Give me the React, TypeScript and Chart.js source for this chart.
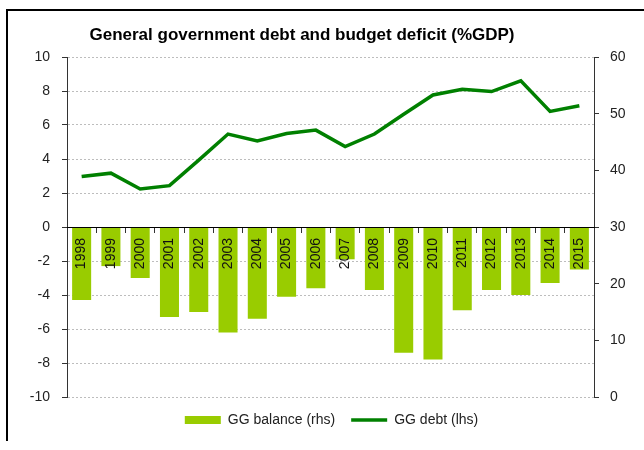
import React, { useEffect, useRef } from "react";
import { Chart, registerables } from "chart.js";

Chart.register(...registerables);

const years = ["1998", "1999", "2000", "2001", "2002", "2003", "2004", "2005", "2006", "2007", "2008", "2009", "2010", "2011", "2012", "2013", "2014", "2015"];
const ggBalance = [-4.3, -2.3, -3.0, -5.3, -5.0, -6.2, -5.4, -4.1, -3.6, -1.9, -3.7, -7.4, -7.8, -4.9, -3.7, -4.0, -3.3, -2.5];
const ggDebt = [38.9, 39.5, 36.7, 37.3, 41.8, 46.4, 45.2, 46.5, 47.1, 44.2, 46.4, 49.9, 53.3, 54.3, 53.9, 55.8, 50.4, 51.4];

const titleText = "General government debt and budget deficit (%GDP)";
const balanceLabel = "GG balance (rhs)";
const debtLabel = "GG debt (lhs)";

const BAR_COLOR = "#99CC00";
const LINE_COLOR = "#008000";
const FONT = "'Liberation Sans', Arial, sans-serif";

export default function App() {
  const canvasRef = useRef<HTMLCanvasElement>(null);

  useEffect(() => {
    if (!canvasRef.current) return;
    const chart = new Chart(canvasRef.current, {
      type: "bar",
      data: {
        labels: years,
        datasets: [
          {
            type: "bar",
            label: balanceLabel,
            data: ggBalance,
            backgroundColor: BAR_COLOR,
            borderWidth: 0,
            yAxisID: "y",
            categoryPercentage: 1,
            barPercentage: 0.65,
            order: 2,
          },
          {
            type: "line",
            label: debtLabel,
            data: ggDebt,
            borderColor: LINE_COLOR,
            backgroundColor: LINE_COLOR,
            borderWidth: 3.5,
            pointRadius: 0,
            tension: 0,
            yAxisID: "y1",
            order: 1,
          },
        ],
      } as any,
      options: {
        responsive: false,
        animation: false,
        layout: { padding: { left: 19, right: 0, top: 57, bottom: 13 } },
        plugins: {
          title: { display: false },
          tooltip: { enabled: false },
          legend: {
            position: "bottom",
            labels: {
              usePointStyle: true,
              pointStyleWidth: 36,
              boxHeight: 8,
              padding: 16,
              color: "#222",
              font: { family: FONT, size: 14 },
              sort: (a: any, b: any) => a.datasetIndex - b.datasetIndex,
              generateLabels: (c: any) => {
                const items = (Chart.defaults.plugins.legend.labels as any).generateLabels(c);
                return items.map((it: any) => {
                  const isBar = it.datasetIndex === 0;
                  return {
                    ...it,
                    pointStyle: isBar ? "rect" : "line",
                    lineWidth: isBar ? 0 : 3.5,
                    strokeStyle: isBar ? BAR_COLOR : LINE_COLOR,
                    fillStyle: isBar ? BAR_COLOR : LINE_COLOR,
                  };
                });
              },
            },
          },
        },
        scales: {
          x: {
            type: "category",
            offset: true,
            position: { y: 0 } as any,
            grid: {
              display: true,
              drawOnChartArea: false,
              drawTicks: true,
              tickLength: 5,
              offset: true,
              color: "#333",
              tickColor: "#333",
              z: 1,
            },
            border: { display: true, color: "#000", width: 1, z: 1 },
            ticks: {
              minRotation: 90,
              maxRotation: 90,
              autoSkip: false,
              padding: 6,
              color: "#111",
              font: { family: FONT, size: 14 },
              z: 1,
            },
          },
          y: {
            type: "linear",
            position: "left",
            min: -10,
            max: 10,
            ticks: {
              stepSize: 2,
              padding: 12,
              color: "#222",
              font: { family: FONT, size: 14 },
            },
            grid: {
              color: "#bdbdbd",
              tickColor: "#333",
              tickLength: 5,
              lineWidth: 1,
            },
            border: { display: true, color: "#333", width: 1, dash: [2, 2] },
            afterFit: (s: any) => {
              s.width = 48;
            },
          },
          y1: {
            type: "linear",
            position: "right",
            min: 0,
            max: 60,
            ticks: {
              stepSize: 10,
              padding: 11,
              color: "#222",
              font: { family: FONT, size: 14 },
            },
            grid: {
              drawOnChartArea: false,
              tickColor: "#333",
              tickLength: 5,
            },
            border: { display: true, color: "#333", width: 1 },
            afterFit: (s: any) => {
              s.width = 50;
            },
          },
        },
      } as any,
    });
    return () => chart.destroy();
  }, []);

  return (
    <div style={{ position: "absolute", left: 0, top: 0, width: 644, height: 450, overflow: "hidden", background: "#fff" }}>
      <canvas ref={canvasRef} width={644} height={450} style={{ position: "absolute", left: 0, top: 0 }} />
      <div
        style={{
          position: "absolute",
          left: 6,
          top: 9,
          width: 636,
          height: 430,
          borderTop: "2px solid #000",
          borderLeft: "2px solid #000",
          pointerEvents: "none",
        }}
      />
      <div
        style={{
          position: "absolute",
          left: 0,
          top: 25,
          width: 604,
          textAlign: "center",
          fontFamily: FONT,
          fontWeight: "bold",
          fontSize: 17,
          lineHeight: "20px",
          color: "#000",
        }}
      >
        {titleText}
      </div>
    </div>
  );
}
